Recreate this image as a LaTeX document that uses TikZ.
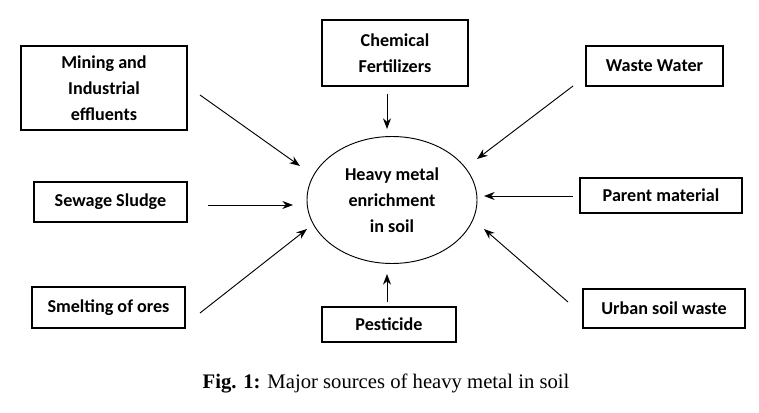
\documentclass[tikz,border=0pt]{standalone}
\usepackage{fontspec}
\newfontfamily\srcfont{Carlito}
\newfontfamily\capfont{Liberation Serif}
\usetikzlibrary{arrows.meta,shapes.geometric}
\tikzset{
	srcbox/.style={
		draw, line width=0.8pt, align=center, inner sep=2pt,
		font={\srcfont\bfseries\fontsize{13.6}{19.5}\selectfont}
	},
	soilnode/.style={
		draw, ellipse, line width=0.7pt, align=center, inner sep=0pt,
		minimum width=127.5pt, minimum height=95.25pt,
		font={\srcfont\bfseries\fontsize{13.6}{19.5}\selectfont}
	},
	feed/.style={-{Stealth[length=8pt,width=6pt]}, line width=0.7pt},
	>=stealth,
}
\begin{document}
\begin{tikzpicture}[x=0.75pt, y=-0.75pt]
\useasboundingbox (0,0) rectangle (759,413);
% sources
\node [srcbox, minimum width=124.5pt, minimum height=63pt]   (mine)   at (104,88)    {Mining and\\Industrial\\effluents};
\node [srcbox, minimum width=109.5pt, minimum height=49.5pt] (chem)   at (395,53)    {Chemical\\Fertilizers};
\node [srcbox, minimum width=102.75pt, minimum height=30pt]  (waste)  at (654.5,66)  {Waste Water};
\node [srcbox, minimum width=114.75pt, minimum height=30pt]  (sewage) at (110.5,202) {Sewage Sludge};
\node [srcbox, minimum width=121.5pt, minimum height=26.25pt] (parent) at (661,195.5) {Parent material};
\node [srcbox, minimum width=114.75pt, minimum height=30.75pt] (smelt) at (108.5,307.5) {Smelting of ores};
\node [srcbox, minimum width=100.5pt, minimum height=26.25pt] (pest)   at (389,324.5) {Pesticide};
\node [srcbox, minimum width=121.5pt, minimum height=29.25pt] (urban)  at (664,308.5) {Urban soil waste};
% centre
\node [soilnode] (soil) at (392,200) {Heavy metal\\enrichment\\in soil};
% arrow ends
\coordinate (mineA)   at (200,95);  \coordinate (mineB)   at (300,166);
\coordinate (chemA)   at (387,94);  \coordinate (chemB)   at (387,129);
\coordinate (wasteA)  at (573,86);  \coordinate (wasteB)  at (477,159);
\coordinate (sewageA) at (208,205); \coordinate (sewageB) at (293,205);
\coordinate (parentA) at (573,196); \coordinate (parentB) at (484,196);
\coordinate (smeltA)  at (200,313); \coordinate (smeltB)  at (307,229);
\coordinate (pestA)   at (387,302); \coordinate (pestB)   at (387,274);
\coordinate (urbanA)  at (568,302); \coordinate (urbanB)  at (484,229);
\foreach \s in {mine,chem,waste,sewage,parent,smelt,pest,urban}
	\draw [feed] (\s A) -- (\s B);
% caption
\node [font={\capfont\fontsize{15.5}{18}\selectfont}] (cap) at (386,384)
	{\textbf{Fig. 1:} Major sources of heavy metal in soil};
\end{tikzpicture}
\end{document}
